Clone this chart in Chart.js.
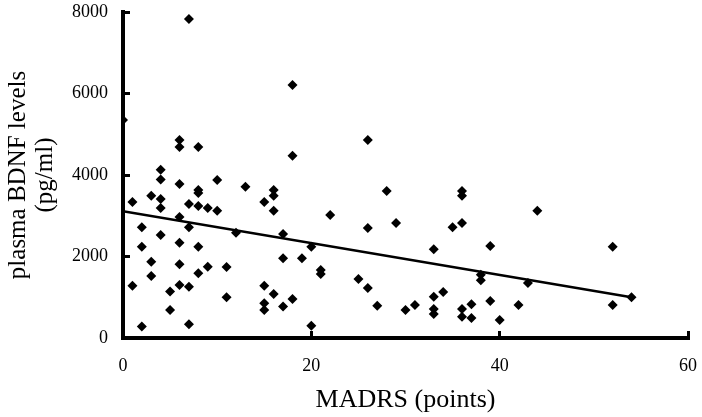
<!DOCTYPE html>
<html>
<head>
<meta charset="utf-8">
<script src="https://cdn.jsdelivr.net/npm/chart.js@4"></script>
<style>
  html, body { margin: 0; padding: 0; background: #fff; }
  #wrap { width: 702px; height: 417px; }
</style>
</head>
<body>
<div id="wrap"><canvas id="bdnfChart"></canvas></div>
<script>
// MADRS score vs plasma BDNF
var madrs = [7, 18, 0, 6, 6, 8, 18, 26, 4, 4, 10, 6, 8, 8, 13, 16, 16, 3, 4, 1,
             4, 7, 8, 9, 10, 15, 16, 6, 2, 7, 4, 12, 17, 6, 2, 8, 17, 3, 6, 9,
             11, 3, 8, 1, 6, 7, 5, 11, 15, 16, 18, 15, 17, 15, 5, 2, 7, 28, 36, 36,
             22, 29, 26, 35, 36, 19, 20, 33, 21, 21, 25, 26, 38, 38, 27, 30, 31, 33, 34, 33,
             33, 36, 36, 37, 37, 20, 39, 39, 44, 52, 43, 42, 40, 52, 54];
var bdnf = [7830, 6210, 5350, 4860, 4690, 4690, 4470, 4860, 4130, 3890, 3880, 3780, 3630, 3560, 3710, 3630, 3490, 3490, 3410, 3340,
            3190, 3290, 3240, 3190, 3120, 3340, 3120, 2970, 2720, 2720, 2530, 2580, 2550, 2340, 2240, 2240, 1960, 1870, 1810, 1750,
            1740, 1520, 1590, 1280, 1300, 1260, 1140, 1000, 1280, 1080, 960, 850, 770, 690, 690, 280, 340, 3610, 3610, 3490,
            3020, 2820, 2700, 2720, 2820, 1960, 2240, 2180, 1670, 1570, 1450, 1230, 1550, 1420, 790, 690, 810, 1010, 1130, 710,
            590, 710, 520, 830, 490, 300, 2260, 910, 3120, 2240, 1350, 810, 440, 810, 1000];

// regression line end points
var trendX = [0, 54];
var trendY = [3110, 1000];

var xTicks = [0, 20, 40, 60];
var yTicks = [0, 2000, 4000, 6000, 8000];

var points = [];
for (var i = 0; i < madrs.length; i++) {
    points.push({x: madrs[i], y: bdnf[i]});
}
var trend = [];
for (var j = 0; j < trendX.length; j++) {
    trend.push({x: trendX[j], y: trendY[j]});
}

var serif = '"Liberation Serif", "Times New Roman", serif';

function plainLabel(v) { return String(v); }

var ctx = document.getElementById('bdnfChart').getContext('2d');
var chart = new Chart(ctx, {
    type: 'scatter',
    data: {
        datasets: [{
            data: points,
            pointStyle: 'rectRot',
            pointRadius: 5,
            backgroundColor: '#000',
            borderColor: '#000',
            borderWidth: 0
        }, {
            type: 'line',
            data: trend,
            borderColor: '#000',
            borderWidth: 2.5,
            pointRadius: 0,
            fill: false
        }]
    },
    options: {
        responsive: true,
        maintainAspectRatio: false,
        animation: false,
        layout: { padding: { left: 0, right: 14, top: 12, bottom: 0 } },
        plugins: { legend: { display: false }, tooltip: { enabled: false } },
        scales: {
            x: {
                type: 'linear',
                min: 0,
                max: 60,
                afterBuildTicks: function(scale) {
                    scale.ticks = xTicks.map(function(v) { return {value: v}; });
                },
                afterFit: function(scale) {
                    scale.height = 79;
                    scale.paddingLeft = 0;
                    scale.paddingRight = 0;
                },
                grid: { drawOnChartArea: false, drawTicks: true, tickLength: -7, lineWidth: 3, color: '#000' },
                border: { display: true, color: '#000', width: 4 },
                ticks: { color: '#000', font: { family: serif, size: 18 }, padding: 24, maxRotation: 0, callback: plainLabel },
                title: {
                    display: true,
                    text: 'MADRS (points)',
                    color: '#000',
                    font: { family: serif, size: 26 },
                    padding: { top: 0, bottom: 1 }
                }
            },
            y: {
                min: 0,
                max: 8000,
                afterBuildTicks: function(scale) {
                    scale.ticks = yTicks.map(function(v) { return {value: v}; });
                },
                afterFit: function(scale) {
                    scale.width = 123;
                    scale.paddingTop = 0;
                    scale.paddingBottom = 0;
                },
                grid: { drawOnChartArea: false, drawTicks: true, tickLength: -7, lineWidth: 3, color: '#000' },
                border: { display: true, color: '#000', width: 4 },
                ticks: { color: '#000', font: { family: serif, size: 18 }, padding: 22, callback: plainLabel },
                title: {
                    display: true,
                    text: ['plasma BDNF levels', '(pg/ml)'],
                    color: '#000',
                    font: { family: serif, size: 25, lineHeight: 1.08 },
                    padding: { top: 5, bottom: 0 }
                }
            }
        }
    }
});
</script>
</body>
</html>
